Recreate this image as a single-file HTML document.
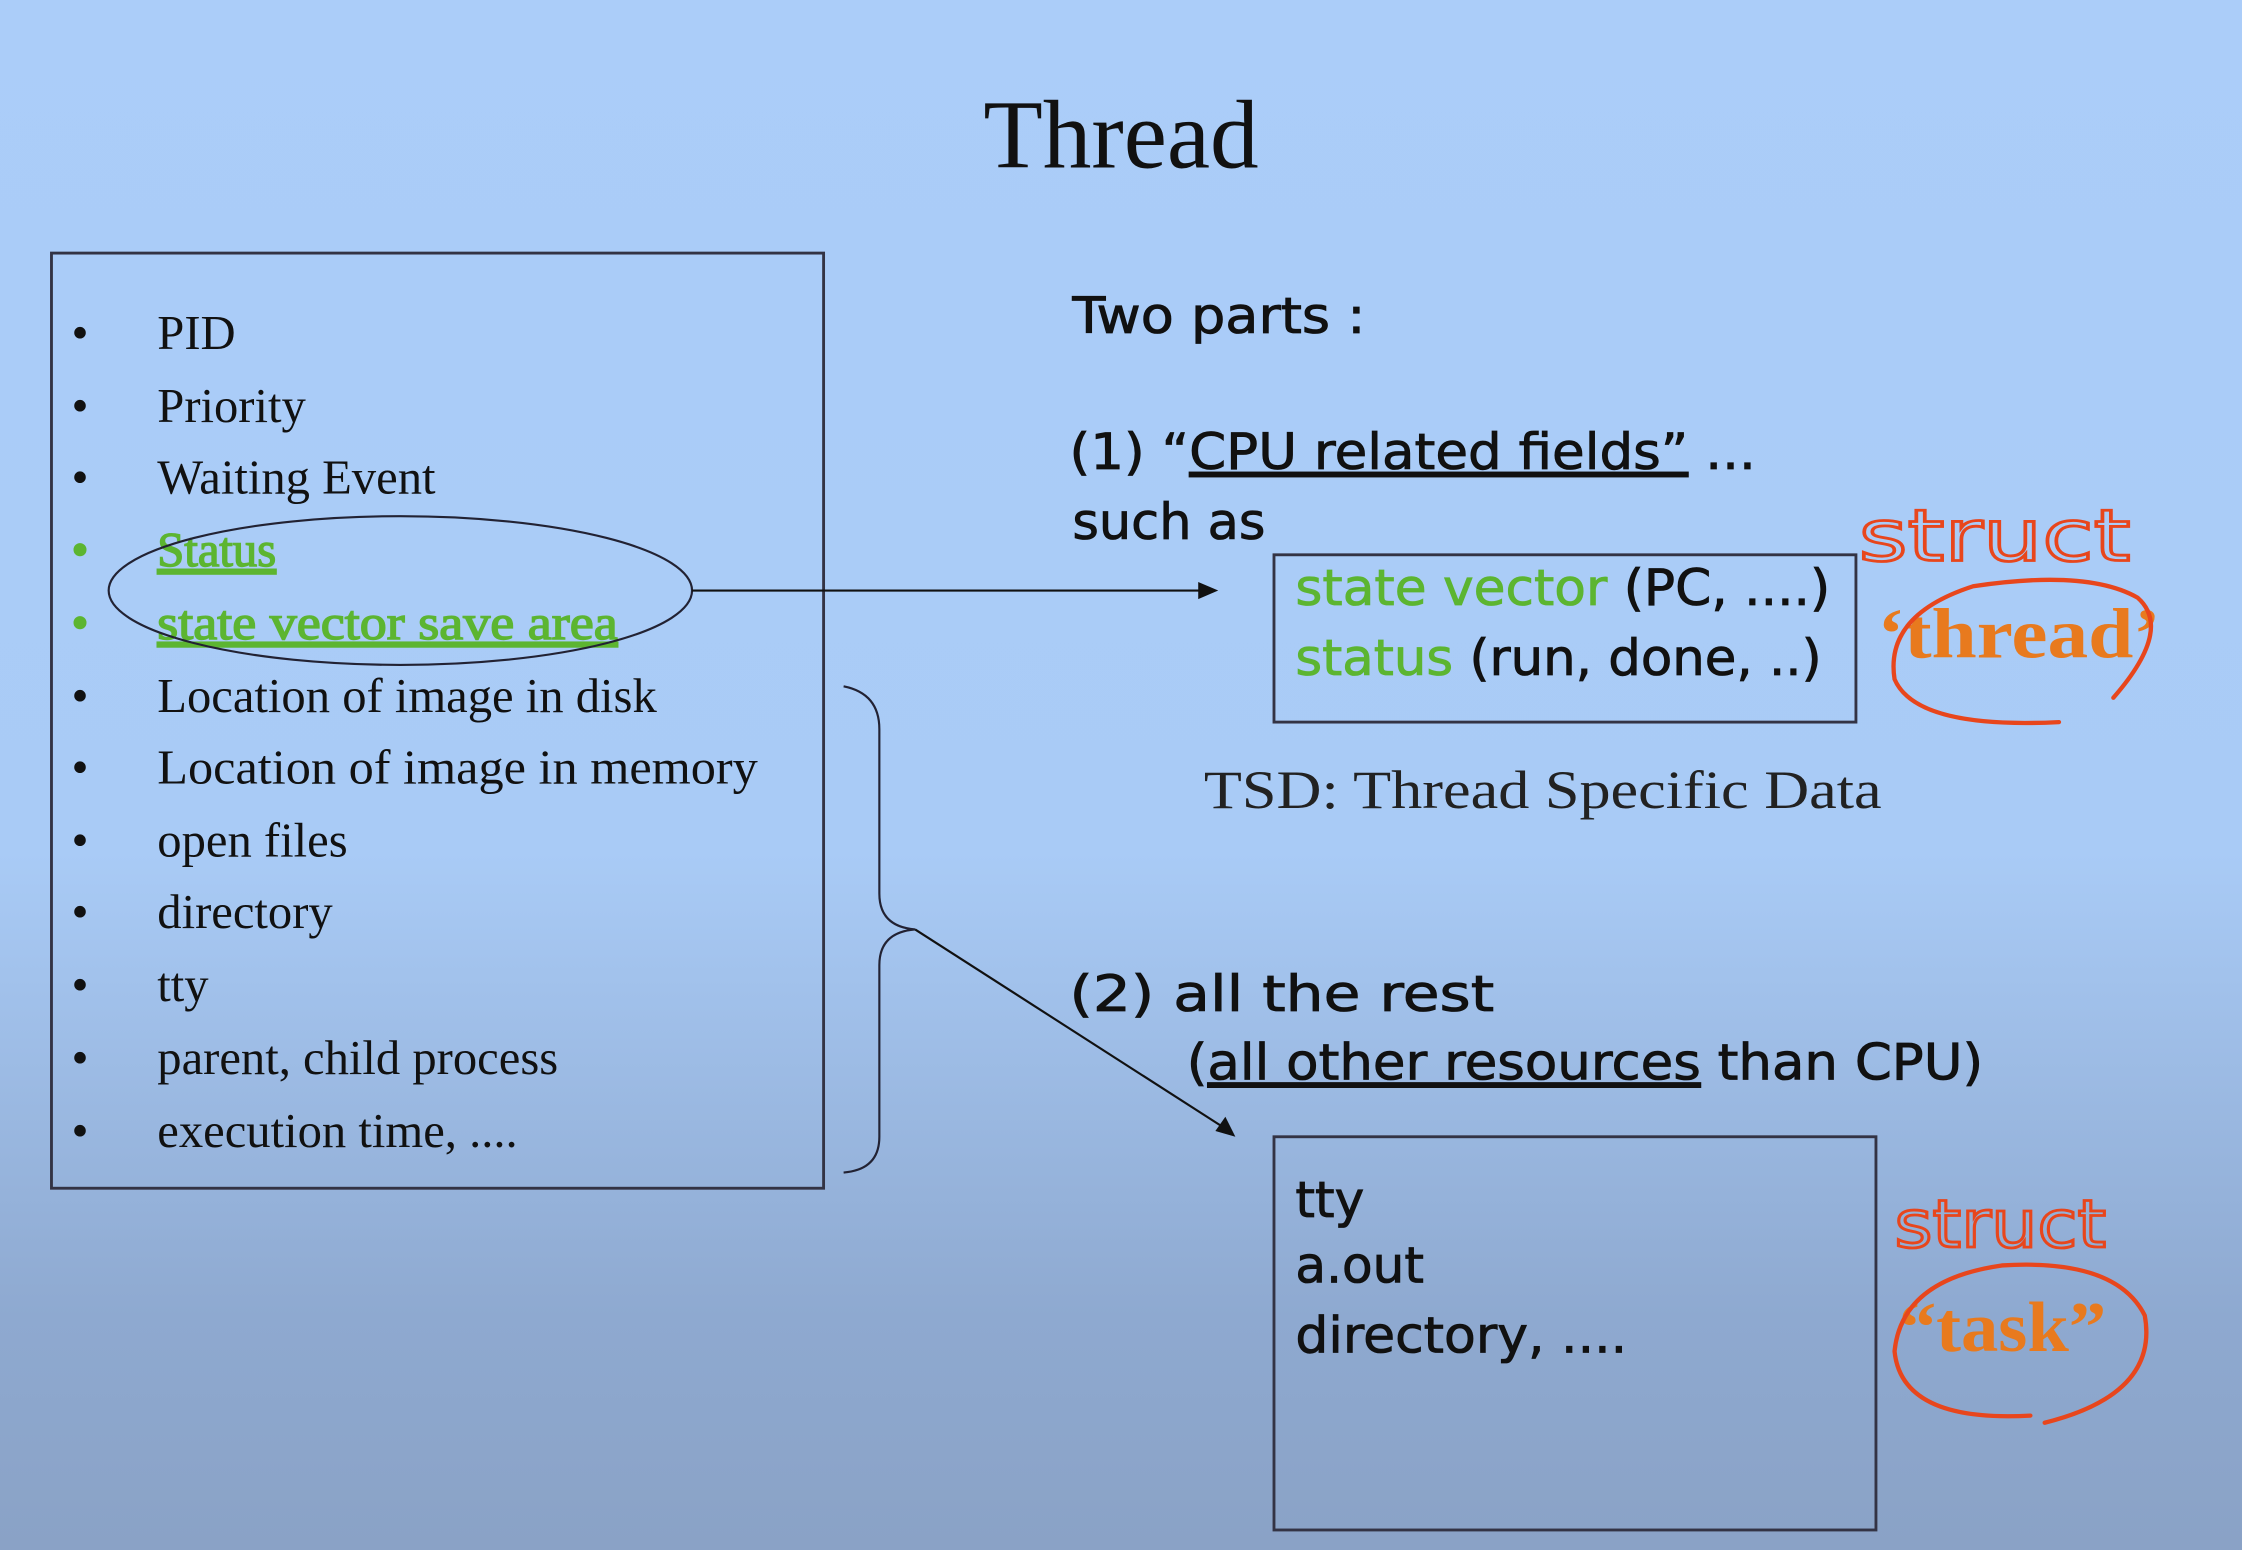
<!DOCTYPE html>
<html><head><meta charset="utf-8"><style>
html,body{margin:0;padding:0;width:2242px;height:1550px;overflow:hidden}
body{background:linear-gradient(#abcdf9 0%,#a9cbf6 55%,#8ea9d0 85%,#8aa2c6 100%)}
svg{display:block}
.t{font-family:"Liberation Serif",serif;font-size:34px;fill:#111}
.c{font-family:"DejaVu Sans",sans-serif;font-size:35px;fill:#111;stroke:#111;stroke-width:0.6}
.g{fill:#5cb531;stroke:#5cb531}
</style></head><body>
<svg width="2242" height="1550" viewBox="0 0 1568 1084" preserveAspectRatio="none">
<text x="784" y="117" text-anchor="middle" font-family="Liberation Serif" font-size="68" fill="#111">Thread</text>
<rect x="36" y="177" width="540" height="654" fill="none" stroke="#334" stroke-width="2"/>
<g class="t">
<text x="50" y="244">•</text><text x="110" y="244">PID</text>
<text x="50" y="295">•</text><text x="110" y="295">Priority</text>
<text x="50" y="345">•</text><text x="110" y="345">Waiting Event</text>
<text x="50" y="396" class="g">•</text><text x="110" y="396" class="g" text-decoration="underline">Status</text>
<text x="50" y="447" class="g">•</text><text x="110" y="447" class="g" text-decoration="underline" textLength="322" lengthAdjust="spacingAndGlyphs">state vector save area</text>
<text x="50" y="498">•</text><text x="110" y="498">Location of image in disk</text>
<text x="50" y="548">•</text><text x="110" y="548" textLength="420" lengthAdjust="spacingAndGlyphs">Location of image in memory</text>
<text x="50" y="599">•</text><text x="110" y="599">open files</text>
<text x="50" y="649">•</text><text x="110" y="649">directory</text>
<text x="50" y="700">•</text><text x="110" y="700">tty</text>
<text x="50" y="751">•</text><text x="110" y="751">parent, child process</text>
<text x="50" y="802">•</text><text x="110" y="802">execution time, ....</text>
</g>
<ellipse cx="280" cy="413" rx="204" ry="52" fill="none" stroke="#223" stroke-width="1.5"/>
<line x1="484" y1="413" x2="840" y2="413" stroke="#111" stroke-width="1.5"/>
<polygon points="852,413 838,407 838,419" fill="#111"/>
<path d="M590,480 Q615,485 615,510 L615,625 Q615,648 640,650 Q615,652 615,675 L615,795 Q615,818 590,820" fill="none" stroke="#223" stroke-width="1.5"/>
<line x1="640" y1="650" x2="855" y2="788" stroke="#111" stroke-width="1.5"/>
<polygon points="864,795 850,791 857,781" fill="#111"/>
<g class="c">
<text x="750" y="233" textLength="205" lengthAdjust="spacingAndGlyphs">Two parts :</text>
<text x="748" y="328" textLength="480" lengthAdjust="spacingAndGlyphs">(1)  “<tspan text-decoration="underline">CPU related fields”</tspan> ...</text>
<text x="750" y="377" textLength="135" lengthAdjust="spacingAndGlyphs">such as</text>
<text x="748" y="707" textLength="297" lengthAdjust="spacingAndGlyphs">(2)  all the  rest</text>
<text x="830" y="755" textLength="557" lengthAdjust="spacingAndGlyphs">(<tspan text-decoration="underline">all other resources</tspan> than CPU)</text>
<text x="906" y="851">tty</text>
<text x="906" y="897">a.out</text>
<text x="906" y="946" textLength="232" lengthAdjust="spacingAndGlyphs">directory, ....</text>
<text x="906" y="423" textLength="374" lengthAdjust="spacingAndGlyphs"><tspan class="g">state vector</tspan> (PC, ....)</text>
<text x="906" y="472" textLength="368" lengthAdjust="spacingAndGlyphs"><tspan class="g">status</tspan> (run, done, ..)</text>
</g>
<rect x="891" y="388" width="407" height="117" fill="none" stroke="#334" stroke-width="2"/>
<rect x="891" y="795" width="421" height="275" fill="none" stroke="#334" stroke-width="2"/>
<text x="842" y="565" font-family="Liberation Serif" font-size="38" fill="#222" textLength="474" lengthAdjust="spacingAndGlyphs">TSD: Thread Specific Data</text>
<g font-family="Liberation Serif" font-weight="bold" font-size="50" fill="#e87a1e">
<text x="1313" y="460" textLength="198" lengthAdjust="spacingAndGlyphs">‘thread’</text>
<text x="1328" y="945" textLength="145" lengthAdjust="spacingAndGlyphs">“task”</text>
</g>
<g fill="none" stroke="#e8461c" stroke-width="3" stroke-linecap="round">
<path d="M1478,488 Q1520,440 1495,418 Q1460,398 1380,410 Q1318,430 1325,475 Q1340,510 1440,505"/>
<path d="M1430,995 Q1510,975 1500,920 Q1480,880 1400,885 Q1330,895 1325,945 Q1330,995 1420,990"/>
<text x="1300" y="392" font-family="DejaVu Sans" font-size="50" fill="none" stroke="#e8461c" stroke-width="2" textLength="190" lengthAdjust="spacingAndGlyphs">struct</text>
<text x="1325" y="872" font-family="DejaVu Sans" font-size="46" fill="none" stroke="#e8461c" stroke-width="2" textLength="148" lengthAdjust="spacingAndGlyphs">struct</text>
</g>
</svg>
</body></html>
